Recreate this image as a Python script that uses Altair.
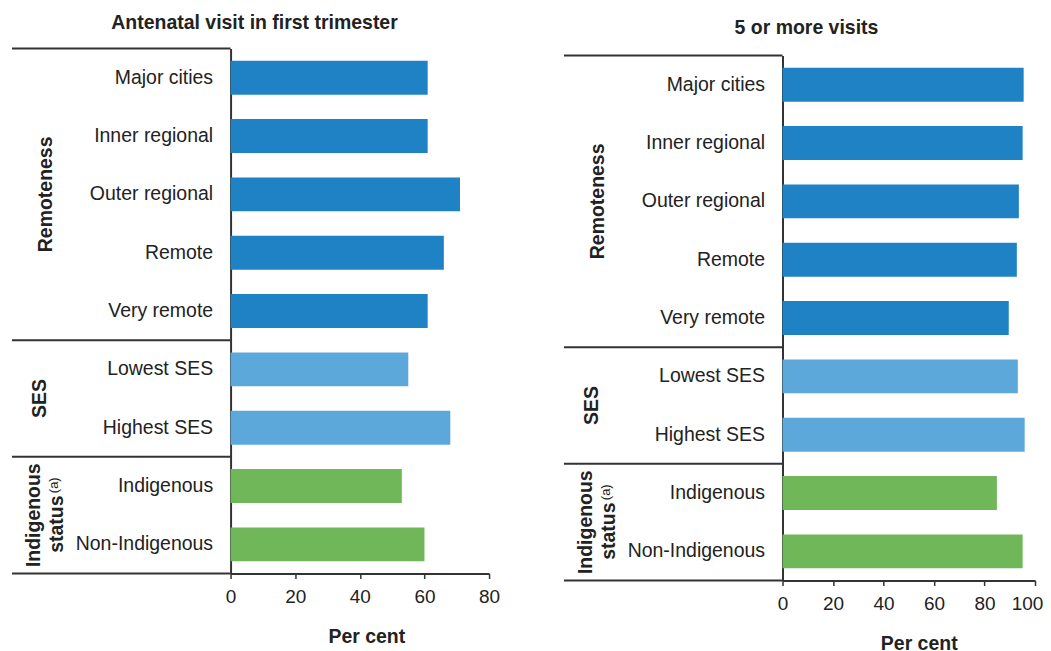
import altair as alt
import pandas as pd

categories = ["Major cities", "Inner regional", "Outer regional", "Remote", "Very remote",
              "Lowest SES", "Highest SES", "Indigenous", "Non-Indigenous"]
groups = ["Remoteness"] * 5 + ["SES"] * 2 + ["Indigenous status"] * 2
first_trimester = [61, 61, 71, 66, 61, 55, 68, 53, 60]
five_or_more = [95.5, 95.1, 93.6, 92.8, 89.6, 93.2, 95.9, 84.9, 95.1]
panel_titles = ["Antenatal visit in first trimester", "5 or more visits"]

group_names = ["Remoteness", "SES", "Indigenous status"]
group_colors = ["#1F82C5", "#5CA8DA", "#70B75A"]

FONT = "Liberation Sans"
LINE = "#333333"
TEXT = "#222222"


def panel(values, title, xmax, width, title_y, xtitle_x, top=0, last_label_shift=0):
    df = pd.DataFrame({"category": categories, "group": groups, "value": values})
    height = 526 + top
    yscale = alt.Scale(domain=categories, range=[top, height], paddingInner=0, paddingOuter=0)

    label_offset = {"condition": {"test": f"datum.value == {xmax}", "value": last_label_shift},
                    "value": 0}

    bars = alt.Chart(df).mark_bar(size=34).encode(
        x=alt.X("value:Q",
                scale=alt.Scale(domain=[0, xmax], nice=False),
                axis=alt.Axis(values=list(range(0, xmax + 1, 20)), title="Per cent",
                              tickSize=5, tickColor=LINE, tickWidth=1.5,
                              domainColor=LINE, domainWidth=2, grid=False,
                              labelFlush=False, labelOffset=label_offset,
                              labelFontSize=19, labelColor=TEXT, labelFont=FONT,
                              labelPadding=9, titleFontSize=19.5, titleFont=FONT,
                              titleFontWeight="bold", titleColor=TEXT, titlePadding=21,
                              titleX=xtitle_x)),
        y=alt.Y("category:N", scale=yscale, title=None,
                axis=alt.Axis(ticks=False, labelPadding=18, labelFontSize=19.5,
                              labelColor=TEXT, labelFont=FONT, domainColor=LINE,
                              domainWidth=2, grid=False)),
        color=alt.Color("group:N", scale=alt.Scale(domain=group_names, range=group_colors),
                        legend=None),
    )

    sep = pd.DataFrame({"category": ["Major cities", "Lowest SES", "Indigenous"]})
    rules_top = alt.Chart(sep).mark_rule(color=LINE, strokeWidth=2).encode(
        y=alt.Y("category:N", scale=yscale, title=None, bandPosition=0),
        x=alt.value(-219), x2=alt.value(0))
    bottom = pd.DataFrame({"category": ["Non-Indigenous"]})
    rule_bottom = alt.Chart(bottom).mark_rule(color=LINE, strokeWidth=2).encode(
        y=alt.Y("category:N", scale=yscale, title=None, bandPosition=1),
        x=alt.value(-219), x2=alt.value(0))

    def glabel(text, cat, bp, xpix, dx=0, bold=True, size=19.5):
        d = pd.DataFrame({"category": [cat], "label": [text]})
        return alt.Chart(d).mark_text(
            angle=270, align="center", baseline="middle", font=FONT, fontSize=size,
            fontWeight="bold" if bold else "normal", color=TEXT, dx=dx
        ).encode(
            y=alt.Y("category:N", scale=yscale, title=None, bandPosition=bp),
            x=alt.value(xpix), text="label:N")

    labels = [
        glabel("Remoteness", "Outer regional", 0.5, -185),
        glabel("SES", "Highest SES", 0, -191),
        glabel("Indigenous", "Non-Indigenous", 0, -197),
        glabel("status", "Non-Indigenous", 0, -174, dx=-9),
        glabel("(a)", "Non-Indigenous", 0, -177, dx=30, bold=False, size=13),
    ]

    tdf = pd.DataFrame({"label": [title]})
    title_mark = alt.Chart(tdf).mark_text(
        align="center", baseline="alphabetic", font=FONT, fontSize=19.5,
        fontWeight="bold", color=TEXT
    ).encode(x=alt.value(24), y=alt.value(title_y), text="label:N")

    layers = [bars, rules_top, rule_bottom, title_mark] + labels
    return alt.layer(*layers).properties(width=width, height=height)


left = panel(first_trimester, panel_titles[0], 80, 259, -20, 136)
right = panel(five_or_more, panel_titles[1], 100, 253, -15, 136.5, top=7, last_label_shift=-8)

chart = alt.hconcat(left, right, spacing=63).properties(
    padding={"left": 3, "top": 4, "right": 0, "bottom": 0}
).configure_view(stroke=None)

chart.save("out.html", embed_options={"renderer": "svg", "actions": False})
